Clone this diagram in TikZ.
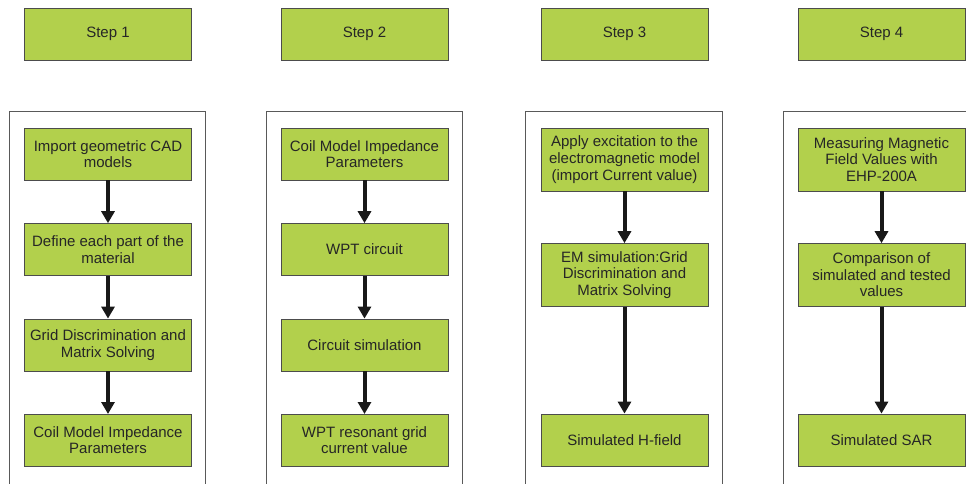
\documentclass[tikz,border=0pt]{standalone}
\usepackage{fontspec}
\setmainfont{Liberation Sans}
\usetikzlibrary{arrows.meta, positioning}

\definecolor{stepgreen}{RGB}{178,208,76}

\begin{document}
\begin{tikzpicture}[x=1pt, y=-1pt, node distance=43pt, >={Triangle[width=13pt, length=12pt]},
    box/.style={rectangle, draw=black!70, fill=stepgreen, minimum width=167pt, minimum height=52pt, align=center, text=black!85, font=\fontsize{15}{16.7}\selectfont},
    frame/.style={draw=black!65, line width=0.8pt},
    flow/.style={->, line width=4pt, black!90}]

        \useasboundingbox (0,0) rectangle (966,484);
        \clip (0,0) rectangle (966,484);

        % step headers
        \node[box] (h1) at (108,34) {Step 1};
        \node[box] (h2) at (364.5,34) {Step 2};
        \node[box] (h3) at (624.5,34) {Step 3};
        \node[box] (h4) at (881.5,34) {Step 4};

        % frames
        \draw[frame] (9,111) rectangle (205,500);
        \draw[frame] (266,111) rectangle (462,500);
        \draw[frame] (525,111) rectangle (722,500);
        \draw[frame] (783,111) rectangle (980,500);

        % step 1
        \node[box] (a1) at (108,154) {Import geometric CAD\\models};
        \node[box, below=of a1] (a2) {Define each part of the\\material};
        \node[box, below=of a2] (a3) {Grid Discrimination and\\Matrix Solving};
        \node[box, below=of a3] (a4) {Coil Model Impedance\\Parameters};

        \draw[flow] (a1) -- (a2);
        \draw[flow] (a2) -- (a3);
        \draw[flow] (a3) -- (a4);

        % step 2
        \node[box] (b1) at (364.5,154) {Coil Model Impedance\\Parameters};
        \node[box, below=of b1] (b2) {WPT circuit};
        \node[box, below=of b2] (b3) {Circuit simulation};
        \node[box, below=of b3] (b4) {WPT resonant grid\\current value};

        \draw[flow] (b1) -- (b2);
        \draw[flow] (b2) -- (b3);
        \draw[flow] (b3) -- (b4);

        % step 3
        \node[box, minimum height=63pt] (c1) at (624.5,159.5) {Apply excitation to the\\electromagnetic model\\(import Current value)};
        \node[box, minimum height=63pt, below=52pt of c1] (c2) {EM simulation:Grid\\Discrimination and\\Matrix Solving};
        \node[box, below=107pt of c2] (c3) {Simulated H-field};

        \draw[flow] (c1) -- (c2);
        \draw[flow] (c2) -- (c3);

        % step 4
        \node[box, minimum height=63pt] (d1) at (881.5,159.5) {Measuring Magnetic\\Field Values with\\EHP-200A};
        \node[box, minimum height=63pt, below=52pt of d1] (d2) {Comparison of\\simulated and tested\\values};
        \node[box, below=107pt of d2] (d3) {Simulated SAR};

        \draw[flow] (d1) -- (d2);
        \draw[flow] (d2) -- (d3);

    \end{tikzpicture}
\end{document}
